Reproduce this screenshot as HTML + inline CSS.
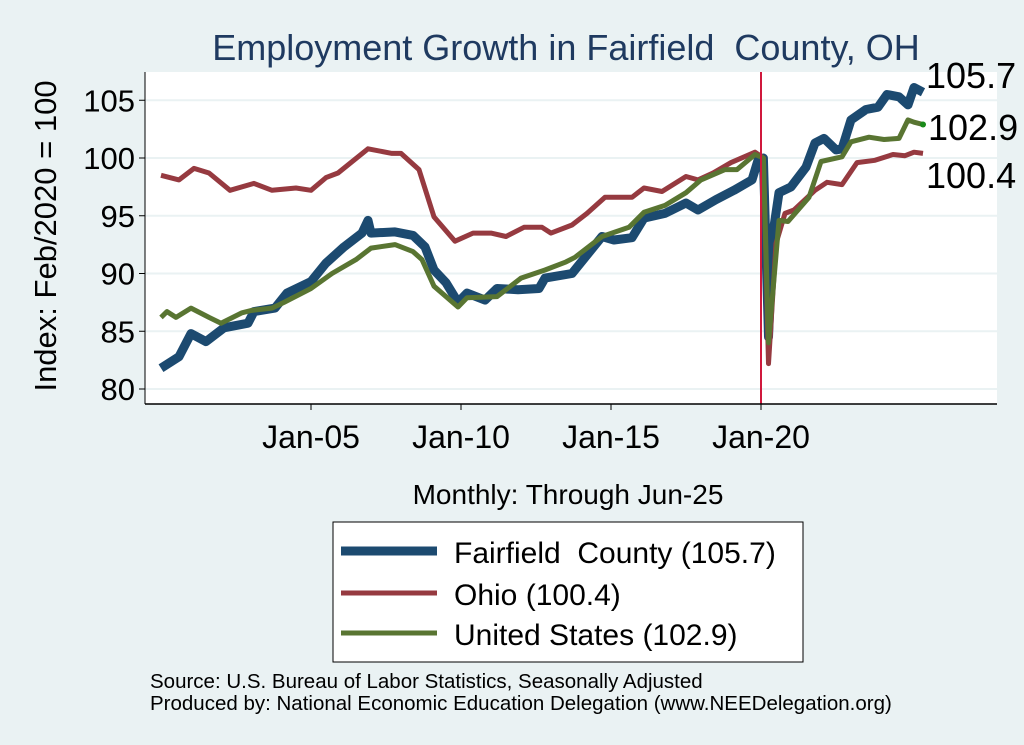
<!DOCTYPE html>
<html><head><meta charset="utf-8"><style>
body{margin:0;background:#eaf2f3;}
svg{display:block;font-family:"Liberation Sans",sans-serif;}
</style></head><body>
<svg width="1024" height="745" viewBox="0 0 1024 745">
<rect x="0" y="0" width="1024" height="745" fill="#eaf2f3"/>
<rect x="145" y="72" width="852" height="332" fill="#ffffff"/>
<text x="566" y="60" text-anchor="middle" font-size="36" fill="#1f3a60">Employment Growth in Fairfield&#160; County, OH</text>
<g id="grid"></g>
<g id="yticks"></g>
<g id="xticks"></g>
<g id="series"></g>
<line x1="145" y1="72" x2="145" y2="404" stroke="#000" stroke-width="1"/>
<line x1="145" y1="404" x2="997" y2="404" stroke="#000" stroke-width="1.5"/>
<text transform="translate(56,236) rotate(-90)" text-anchor="middle" font-size="31" fill="#000">Index: Feb/2020 = 100</text>
<text x="568" y="504" text-anchor="middle" font-size="28" fill="#000">Monthly: Through Jun-25</text>
<g>
<text x="926" y="88" font-size="36" fill="#000">105.7</text>
<text x="928" y="140" font-size="36" fill="#000">102.9</text>
<text x="926" y="188" font-size="36" fill="#000">100.4</text>
</g>
<g>
<rect x="333" y="522" width="470" height="140" fill="#fff" stroke="#000" stroke-width="1"/>
<line x1="341" y1="551" x2="437" y2="551" stroke="#1c4a70" stroke-width="9"/>
<text x="454" y="563" font-size="30">Fairfield&#160; County (105.7)</text>
<line x1="341" y1="593" x2="437" y2="593" stroke="#963a40" stroke-width="5"/>
<text x="454" y="605" font-size="30">Ohio (100.4)</text>
<line x1="341" y1="633" x2="437" y2="633" stroke="#597532" stroke-width="5"/>
<text x="454" y="645" font-size="30">United States (102.9)</text>
</g>
<text x="150" y="688" font-size="20.5">Source: U.S. Bureau of Labor Statistics, Seasonally Adjusted</text>
<text x="150" y="710" font-size="20.5">Produced by: National Economic Education Delegation (www.NEEDelegation.org)</text>
</svg>
<script>
const yTickValues=[80,85,90,95,100,105];
const xTickYears=[2005,2010,2015,2020];
const xTickLabels=["Jan-05","Jan-10","Jan-15","Jan-20"];
const ffDates=[2000.0,2000.6,2001.0,2001.5,2002.1,2002.9,2003.1,2003.8,2004.2,2005.0,2005.5,2006.1,2006.7,2006.9,2007.0,2007.8,2008.4,2008.8,2009.1,2009.5,2009.9,2010.2,2010.8,2011.2,2011.9,2012.6,2012.8,2013.7,2014.7,2015.1,2015.7,2016.1,2016.8,2017.5,2017.9,2018.5,2019.1,2019.7,2019.9,2020.08,2020.25,2020.4,2020.6,2021.0,2021.5,2021.8,2022.1,2022.5,2022.7,2023.0,2023.5,2023.9,2024.2,2024.6,2024.9,2025.1,2025.4];
const ffValues=[81.8,82.8,84.8,84.1,85.3,85.7,86.7,87.0,88.3,89.3,90.9,92.3,93.5,94.6,93.5,93.6,93.3,92.3,90.3,89.2,87.5,88.3,87.7,88.7,88.6,88.7,89.6,90.0,93.2,92.9,93.1,94.8,95.2,96.1,95.5,96.4,97.2,98.1,99.8,100.0,84.5,93.5,97.0,97.5,99.2,101.3,101.7,100.7,100.8,103.3,104.2,104.4,105.5,105.3,104.6,106.1,105.7];
const ohDates=[2000.0,2000.6,2001.1,2001.6,2002.3,2003.1,2003.7,2004.5,2005.0,2005.5,2005.9,2006.9,2007.7,2008.0,2008.6,2009.1,2009.8,2010.4,2011.0,2011.5,2012.1,2012.7,2013.0,2013.7,2014.2,2014.8,2015.7,2016.1,2016.7,2017.5,2017.9,2018.4,2019.0,2019.8,2020.08,2020.25,2020.5,2020.8,2021.1,2021.8,2022.2,2022.7,2023.2,2023.8,2024.4,2024.8,2025.1,2025.4];
const ohValues=[98.5,98.1,99.1,98.7,97.2,97.8,97.2,97.4,97.2,98.3,98.7,100.8,100.4,100.4,99.0,94.9,92.8,93.5,93.5,93.2,94.0,94.0,93.5,94.2,95.2,96.6,96.6,97.4,97.1,98.4,98.1,98.7,99.6,100.5,100.0,82.2,92.6,95.2,95.5,97.2,97.9,97.7,99.6,99.8,100.3,100.2,100.5,100.4];
const usDates=[2000.0,2000.2,2000.5,2001.0,2001.6,2002.0,2002.7,2003.0,2003.7,2004.1,2005.0,2005.7,2006.5,2007.0,2007.8,2008.4,2008.7,2009.1,2009.9,2010.2,2011.2,2012.0,2012.8,2013.5,2013.8,2014.7,2015.6,2016.1,2016.8,2017.5,2018.0,2018.8,2019.2,2019.8,2020.08,2020.25,2020.6,2020.9,2021.6,2022.0,2022.7,2023.0,2023.6,2024.1,2024.6,2024.9,2025.1,2025.4];
const usValues=[86.2,86.7,86.2,87.0,86.2,85.7,86.6,86.8,87.0,87.5,88.7,90.0,91.2,92.2,92.5,91.9,91.2,88.9,87.1,87.9,88.0,89.6,90.3,91.0,91.4,93.2,94.0,95.3,95.9,97.0,98.1,99.0,99.0,100.3,100.0,84.0,94.6,94.5,96.6,99.7,100.1,101.4,101.8,101.6,101.7,103.3,103.1,102.9];
const NS="http://www.w3.org/2000/svg";
function xs(yr){return 311+(yr-2005)*30;}
function ys(v){return 158-(v-100)*11.55;}
function mk(tag,attrs,parent){const e=document.createElementNS(NS,tag);for(const k in attrs)e.setAttribute(k,attrs[k]);parent.appendChild(e);return e;}
const grid=document.getElementById('grid'),yt=document.getElementById('yticks'),xt=document.getElementById('xticks'),ser=document.getElementById('series');
yTickValues.forEach(v=>{
  const g=mk('line',{x1:145,x2:997,y1:ys(v),y2:ys(v),stroke:'#eaf2f3','stroke-width':2},grid);
  
  
  const t=mk('line',{x1:139,x2:145,y1:ys(v),y2:ys(v),stroke:'#000'},yt);
  
  
  const l=mk('text',{x:135,y:ys(v)+11,'text-anchor':'end','font-size':31},yt);
  l.textContent=v;
  
  
});
xTickYears.forEach((yr,i)=>{
  const t=mk('line',{x1:xs(yr),x2:xs(yr),y1:404,y2:410,stroke:'#000'},xt);
  
  
  const l=mk('text',{x:xs(yr),y:448,'text-anchor':'middle','font-size':32},xt);
  l.textContent=xTickLabels[i];
  
  
});
function path(d,v){return d.map((x,i)=>(i?'L':'M')+xs(x).toFixed(1)+','+ys(v[i]).toFixed(1)).join(' ');}
const ff=mk('path',{d:path(ffDates,ffValues),fill:'none',stroke:'#1c4a70','stroke-width':9,'stroke-linejoin':'round'},ser);


const oh=mk('path',{d:path(ohDates,ohValues),fill:'none',stroke:'#963a40','stroke-width':5,'stroke-linejoin':'round'},ser);


const us=mk('path',{d:path(usDates,usValues),fill:'none',stroke:'#597532','stroke-width':5,'stroke-linejoin':'round'},ser);


const dot=mk('circle',{cx:xs(usDates[usDates.length-1]),cy:ys(usValues[usValues.length-1]),r:3,fill:'#1a8a1a'},ser);


const vl=mk('line',{x1:xs(2020),x2:xs(2020),y1:72,y2:404,stroke:'#d0183c','stroke-width':2},ser);


</script>
</body></html>
